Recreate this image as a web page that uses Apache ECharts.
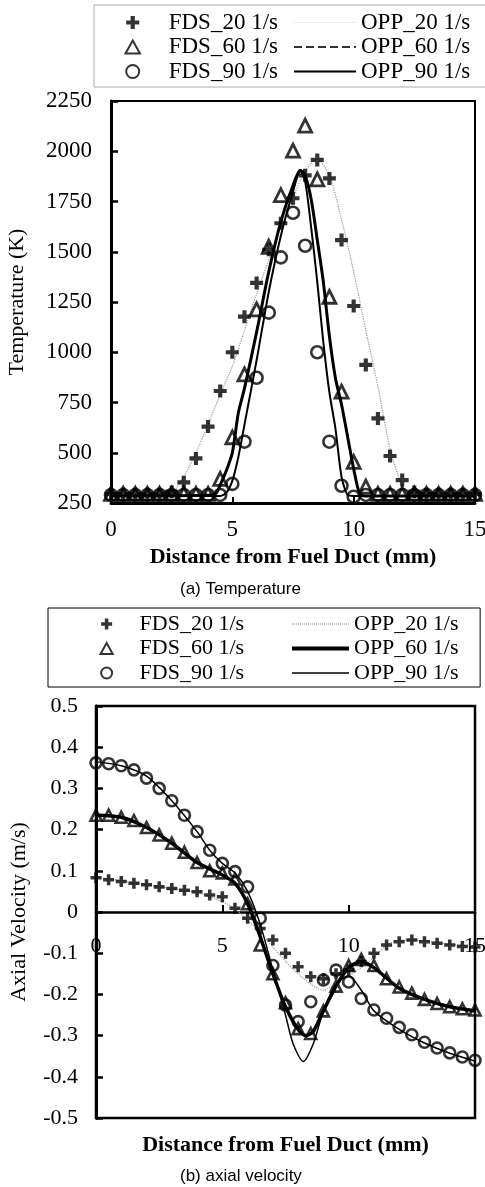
<!DOCTYPE html>
<html>
<head>
<meta charset="utf-8">
<title>FDS vs OPP</title>
<script src="https://cdn.jsdelivr.net/npm/echarts@6.0.0/dist/echarts.min.js"></script>
<style>
    html, body { margin: 0; padding: 0; background: #fff; }
    #chart { width: 485px; height: 1187px; }
</style>
</head>
<body>
<div id="chart"></div>
<script>
// positions along the duct (mm), FDS sample grid
var xFds = [0, 0.5, 1, 1.5, 2, 2.5, 3, 3.5, 4, 4.5, 5, 5.5, 6, 6.5, 7, 7.5,
    8, 8.5, 9, 9.5, 10, 10.5, 11, 11.5, 12, 12.5, 13, 13.5, 14, 14.5, 15];

// (a) temperature, FDS markers (K)
var tFds20 = [295, 295, 295, 295, 295, 305, 353, 472, 630, 807, 1000, 1177, 1345, 1510, 1642, 1766,
    1880, 1957, 1865, 1558, 1230, 937, 671, 484, 364, 305, 295, 295, 295, 295, 295];
var tFds60 = [295, 295, 295, 295, 295, 295, 295, 295, 295, 370, 577, 890, 1213, 1525, 1782, 2003,
    2127, 1860, 1276, 804, 455, 331, 295, 295, 295, 295, 295, 295, 295, 295, 295];
var tFds90 = [290, 290, 290, 290, 290, 290, 290, 290, 290, 290, 345, 555, 873, 1197, 1472, 1694,
    1530, 1000, 555, 336, 281, 290, 290, 290, 290, 290, 290, 290, 290, 290, 290];

// (a) temperature, OPP curves
var tOpp20X = [0, 2, 2.5, 3, 3.5, 4, 4.5, 5, 5.5, 6, 6.5, 7, 7.5, 8, 8.5, 9, 9.5, 10, 10.5, 11, 11.5, 12, 12.5, 15];
var tOpp20Y = [290, 290, 300, 380, 500, 640, 790, 930, 1110, 1290, 1460, 1620, 1770, 1900, 1960, 1880, 1660, 1400, 1110, 830, 520, 340, 295, 290];
var tOpp60X = [0, 4.25, 4.5, 4.75, 5, 5.25, 5.5, 6, 6.5, 7, 7.5, 7.8, 8, 8.25, 8.5, 8.75, 9, 9.25, 9.5, 9.75, 10, 10.25, 10.5, 15];
var tOpp60Y = [285, 290, 340, 410, 500, 700, 820, 1100, 1400, 1650, 1830, 1905, 1880, 1760, 1560, 1350, 1080, 870, 740, 580, 420, 295, 285, 285];
var tOpp90X = [0, 4.5, 4.75, 5, 5.25, 5.5, 6, 6.5, 7, 7.5, 7.8, 8, 8.25, 8.5, 8.75, 9, 9.25, 9.5, 9.75, 10, 15];
var tOpp90Y = [285, 285, 300, 360, 480, 640, 960, 1300, 1580, 1800, 1900, 1850, 1620, 1350, 1050, 800, 620, 380, 290, 285, 285];

// (b) axial velocity, FDS markers (m/s)
var vFds20 = [0.083, 0.078, 0.074, 0.070, 0.066, 0.061, 0.057, 0.053, 0.049, 0.041, 0.037, 0.009, -0.015, -0.04, -0.068, -0.10,
    -0.133, -0.157, -0.162, -0.15, -0.14, -0.12, -0.10, -0.08, -0.072, -0.068, -0.072, -0.076, -0.080, -0.084, -0.085];
var vFds60 = [0.235, 0.235, 0.23, 0.222, 0.205, 0.187, 0.167, 0.145, 0.12, 0.1, 0.095, 0.08, 0.02, -0.08, -0.15, -0.22,
    -0.283, -0.295, -0.24, -0.18, -0.13, -0.115, -0.13, -0.162, -0.182, -0.197, -0.212, -0.222, -0.23, -0.235, -0.238];
var vFds90 = [0.362, 0.36, 0.355, 0.345, 0.325, 0.30, 0.27, 0.235, 0.195, 0.15, 0.118, 0.098, 0.061, -0.015, -0.13, -0.226,
    -0.266, -0.218, -0.165, -0.141, -0.17, -0.21, -0.238, -0.258, -0.28, -0.298, -0.316, -0.33, -0.342, -0.352, -0.36];

// (b) axial velocity, OPP curves
var vOpp20X = [0, 1, 2, 3, 4, 5, 5.5, 6, 6.5, 7, 7.5, 8, 8.5, 9, 9.5, 10, 10.5, 11, 11.5, 12, 13, 14, 15];
var vOpp20Y = [0.085, 0.076, 0.066, 0.057, 0.047, 0.025, 0.008, -0.02, -0.05, -0.085, -0.12, -0.15, -0.175, -0.19, -0.175, -0.155, -0.135, -0.11, -0.08, -0.068, -0.07, -0.078, -0.082];
var vOpp60X = [0, 1, 2, 3, 4, 5, 5.5, 6, 6.5, 7, 7.5, 8, 8.3, 8.6, 9, 9.5, 10, 10.5, 11, 12, 13, 14, 15];
var vOpp60Y = [0.235, 0.23, 0.205, 0.167, 0.12, 0.09, 0.07, 0.02, -0.06, -0.15, -0.23, -0.285, -0.3, -0.29, -0.24, -0.18, -0.135, -0.12, -0.135, -0.185, -0.212, -0.23, -0.24];
var vOpp90X = [0, 1, 2, 3, 4, 4.5, 5, 5.5, 6, 6.5, 7, 7.5, 7.8, 8.2, 8.6, 9, 9.5, 10, 10.5, 11, 12, 13, 14, 15];
var vOpp90Y = [0.365, 0.355, 0.33, 0.27, 0.195, 0.15, 0.118, 0.095, 0.05, -0.03, -0.14, -0.25, -0.32, -0.363, -0.32, -0.24, -0.175, -0.155, -0.19, -0.24, -0.285, -0.318, -0.343, -0.362];

var fdsNames = ['FDS_20 1/s', 'FDS_60 1/s', 'FDS_90 1/s'];
var oppNames = ['OPP_20 1/s', 'OPP_60 1/s', 'OPP_90 1/s'];

(function () {
    var SERIF = 'Liberation Serif';
    var SANS = 'Liberation Sans';
    var PLUS = 'path://M3.4,0H6.6V3.4H10V6.6H6.6V10H3.4V6.6H0V3.4H3.4Z';
    var TRI = 'path://M5,0L10,9L0,9Z';

    function pairs(xs, ys) {
        return xs.map(function (x, i) { return [x, ys[i]]; });
    }

    function markers(name, idx, symbol, ys, size, stroke) {
        var hollow = symbol !== PLUS;
        return {
            name: name,
            type: 'scatter',
            xAxisIndex: idx,
            yAxisIndex: idx,
            symbol: symbol,
            symbolSize: size,
            z: 5,
            itemStyle: hollow
                ? { color: 'rgba(0,0,0,0)', borderColor: '#000', borderWidth: stroke }
                : { color: '#000', borderWidth: 0 },
            data: pairs(xFds, ys)
        };
    }

    function curve(name, idx, xs, ys, lineStyle) {
        return {
            name: name,
            type: 'line',
            xAxisIndex: idx,
            yAxisIndex: idx,
            symbol: 'none',
            smooth: 0.25,
            z: 3,
            itemStyle: { color: '#000' },
            lineStyle: lineStyle,
            data: pairs(xs, ys)
        };
    }

    // marker column of a legend box; the box border is drawn round this one.
    // padding is counted from the marker glyph, not from the item cell
    function fdsLegend(left, top, fontSize, itemWidth, iconSize, padding, border) {
        var icons = [PLUS, TRI, 'circle'];
        return {
            orient: 'vertical',
            left: left, top: top,
            padding: padding,
            itemGap: fontSize === 23 ? 1.5 : 2.5,
            itemWidth: itemWidth,
            itemHeight: iconSize,
            selectedMode: false,
            borderColor: border,
            borderWidth: 1,
            textStyle: { fontFamily: SERIF, fontSize: fontSize, color: '#000' },
            data: fdsNames.map(function (n, i) { return { name: n, icon: icons[i] }; })
        };
    }

    function oppLegend(left, top, fontSize, itemWidth, padding, styles) {
        return {
            orient: 'vertical',
            left: left, top: top,
            padding: padding,
            itemGap: fontSize === 23 ? 1.5 : 2.5,
            itemWidth: itemWidth,
            itemHeight: 12,
            selectedMode: false,
            textStyle: { fontFamily: SERIF, fontSize: fontSize, color: '#000' },
            data: oppNames.map(function (n, i) {
                return {
                    name: n,
                    lineStyle: styles[i],
                    itemStyle: { color: 'rgba(0,0,0,0)', borderWidth: 0, opacity: 0 }
                };
            })
        };
    }

    function initial() {
        var myChart = echarts.init(document.getElementById('chart'), null, { renderer: 'canvas' });
        var tickText = { fontFamily: SERIF, fontSize: 23, color: '#000' };
        var nameText = { fontFamily: SERIF, fontSize: 22, color: '#000', fontWeight: 'bold' };

        var option = {
            animation: false,
            backgroundColor: '#fff',
            legend: [
                fdsLegend(94, 5, 23, 62, 13, [6, 230, 4, 30.5], '#aaa'),
                oppLegend(293, 5, 23, 62, [6, 0, 4, 0], [
                    { color: '#ddd', width: 1, type: 'dotted' },
                    { color: '#333', width: 2, type: 'dashed' },
                    { color: '#000', width: 2, type: 'solid' }
                ]),
                fdsLegend(48, 608, 22, 56, 11, [5, 236, 3, 51.5], '#000'),
                oppLegend(290, 608, 22, 57, [5, 0, 3, 0], [
                    { color: '#888', width: 1, type: 'dotted' },
                    { color: '#000', width: 4, type: 'solid' },
                    { color: '#000', width: 1.5, type: 'solid' }
                ])
            ],
            grid: [
                { left: 111, top: 101, width: 364, height: 402, show: true, borderColor: '#000', borderWidth: 2,
                    outerBoundsMode: 'none', containLabel: false },
                { left: 96, top: 706, width: 379, height: 412, show: true, borderColor: '#000', borderWidth: 2.5,
                    outerBoundsMode: 'none', containLabel: false }
            ],
            xAxis: [
                {
                    gridIndex: 0, type: 'value', min: 0, max: 15, interval: 5,
                    name: 'Distance from Fuel Duct (mm)', nameLocation: 'middle', nameGap: 43,
                    nameTextStyle: nameText,
                    axisLine: { lineStyle: { color: '#000', width: 3 } },
                    axisTick: { inside: true, length: 6, lineStyle: { color: '#000', width: 2 } },
                    axisLabel: Object.assign({ margin: 15 }, tickText),
                    splitLine: { show: false }
                },
                {
                    // drawn through v = 0, half the grid height above the bottom edge
                    gridIndex: 1, type: 'value', min: 0, max: 15, interval: 5,
                    position: 'bottom', offset: -206,
                    name: 'Distance from Fuel Duct (mm)', nameLocation: 'middle', nameGap: 222,
                    nameTextStyle: nameText,
                    axisLine: { onZero: false, lineStyle: { color: '#000', width: 2.5 } },
                    axisTick: { inside: true, length: 7, lineStyle: { color: '#000', width: 2 } },
                    axisLabel: { margin: 23, fontSize: 22, fontFamily: SERIF, color: '#000' },
                    splitLine: { show: false }
                }
            ],
            yAxis: [
                {
                    gridIndex: 0, type: 'value', min: 250, max: 2250, interval: 250,
                    name: 'Temperature (K)', nameLocation: 'middle', nameGap: 83, nameRotate: 90,
                    nameTextStyle: { fontFamily: SERIF, fontSize: 22, color: '#000' },
                    axisLine: { lineStyle: { color: '#000', width: 3 } },
                    axisTick: { inside: true, length: 7, lineStyle: { color: '#000', width: 2.5 } },
                    axisLabel: Object.assign({ margin: 19, formatter: function (v) { return String(v); } }, tickText),
                    splitLine: { show: false }
                },
                {
                    gridIndex: 1, type: 'value', min: -0.5, max: 0.5, interval: 0.1,
                    name: 'Axial Velocity (m/s)', nameLocation: 'middle', nameGap: 66, nameRotate: 90,
                    nameTextStyle: { fontFamily: SERIF, fontSize: 22, color: '#000' },
                    axisLine: { onZero: false, lineStyle: { color: '#000', width: 3 } },
                    axisTick: { inside: true, length: 7, lineStyle: { color: '#000', width: 2.5 } },
                    axisLabel: { margin: 18, fontFamily: SERIF, fontSize: 22, color: '#000',
                        formatter: function (v) { return String(Math.round(v * 10) / 10); } },
                    splitLine: { show: false }
                }
            ],
            graphic: [
                { type: 'text', left: 180, top: 581, style: { text: '(a) Temperature', font: '17px ' + SANS, fill: '#000' } },
                { type: 'text', left: 180, top: 1168, style: { text: '(b) axial velocity', font: '17px ' + SANS, fill: '#000' } }
            ],
            series: [
                // (a) temperature
                curve('OPP_20 1/s', 0, tOpp20X, tOpp20Y, { color: '#999', width: 1.2, type: 'dotted' }),
                curve('OPP_60 1/s', 0, tOpp60X, tOpp60Y, { color: '#000', width: 3 }),
                curve('OPP_90 1/s', 0, tOpp90X, tOpp90Y, { color: '#000', width: 2 }),
                markers('FDS_20 1/s', 0, PLUS, tFds20, 13, 0),
                markers('FDS_60 1/s', 0, TRI, tFds60, 13, 2.8),
                markers('FDS_90 1/s', 0, 'circle', tFds90, 12, 2.6),
                // (b) axial velocity
                curve('OPP_20 1/s', 1, vOpp20X, vOpp20Y, { color: '#999', width: 1.2, type: 'dotted' }),
                curve('OPP_60 1/s', 1, vOpp60X, vOpp60Y, { color: '#000', width: 3.5 }),
                curve('OPP_90 1/s', 1, vOpp90X, vOpp90Y, { color: '#000', width: 1.5 }),
                markers('FDS_20 1/s', 1, PLUS, vFds20, 11, 0),
                markers('FDS_60 1/s', 1, TRI, vFds60, 11, 2.6),
                markers('FDS_90 1/s', 1, 'circle', vFds90, 11, 2.6)
            ]
        };

        option && myChart.setOption(option);
    }

    window.addEventListener('load', initial);
})();
</script>
</body>
</html>
